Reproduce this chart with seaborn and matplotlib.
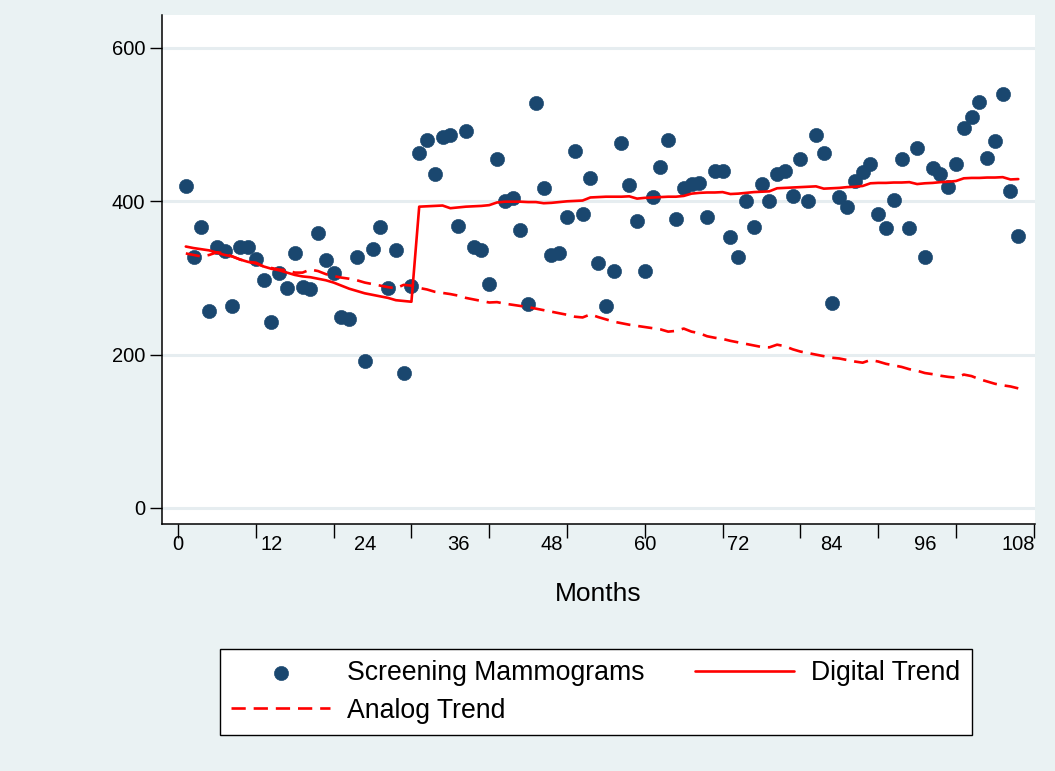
import numpy as np
import pandas as pd
import matplotlib
matplotlib.use("Agg")
import matplotlib.pyplot as plt
import seaborn as sns

# Monthly screening mammogram counts with fitted digital / analog trends
months = list(range(1, 109))

screening = [
    420, 327, 366, 257, 340, 335, 264, 340, 340, 325, 298, 243,
    306, 287, 332, 288, 285, 359, 324, 306, 249, 247, 327, 192,
    338, 366, 287, 337, 176, 289, 463, 480, 435, 484, 487, 368,
    492, 341, 337, 292, 455, 400, 404, 363, 266, 528, 417, 330,
    333, 380, 466, 384, 430, 319, 264, 309, 476, 421, 374, 309,
    406, 445, 480, 377, 418, 422, 424, 379, 440, 440, 354, 327,
    400, 367, 422, 400, 435, 440, 407, 455, 400, 487, 463, 267,
    406, 392, 427, 438, 449, 383, 365, 402, 455, 365, 470, 328,
    443, 435, 419, 449, 495, 510, 530, 457, 479, 540, 414, 355,
]

digital_trend = [
    341, 339, 337.5, 336, 333, 330, 328, 324, 321, 319, 315, 312,
    310, 307, 304, 302, 301, 299, 297, 294, 290, 286, 283, 280,
    278, 276, 274, 271, 270, 269, 393, 393.5, 394, 394.5, 391, 392,
    393, 393.5, 394, 395, 398.5, 399.5, 399.5, 399.5, 399, 399, 397.5, 398,
    399, 400, 400.5, 401, 405, 405.5, 406, 406, 406, 406.5, 403.5, 404.5,
    405, 405.5, 406, 406, 407, 410, 411, 411.5, 411.5, 412, 409.5, 410,
    411, 412, 412.5, 413, 417, 417.5, 418, 418.5, 419, 419.5, 416.5, 417,
    417.5, 418.5, 419, 420, 423.5, 424, 424, 424.5, 424.5, 425, 422.5, 423.5,
    424, 425, 425.5, 426.5, 430, 430.5, 430.5, 431, 431, 431.5, 428.5, 429,
]

analog_trend = [
    332, 330, 328, 330, 333.5, 332, 328, 324, 321, 320, 315, 313,
    311, 310, 307, 307, 311, 309, 305, 302.5, 300.5, 299, 297, 294,
    292, 290, 288, 286.5, 291, 290, 287, 285, 282, 280.5, 279, 277,
    274, 272, 270, 268, 268.5, 266.5, 265, 263.5, 262, 260, 258, 256,
    254, 252, 249.5, 248.5, 252.5, 249, 246, 243, 241, 239, 237.5, 236,
    234.5, 233, 230, 231, 234, 230, 228, 224, 222, 220.5, 218, 216,
    214, 212, 210, 209.5, 213, 211, 207, 204, 202, 200, 198, 196,
    195, 193, 191, 189.5, 193, 191, 188, 186, 184, 181, 179, 176,
    174.5, 172.5, 171, 170, 174, 172, 168, 165, 162, 160, 158.5, 156,
]

x_tick_marks = list(range(0, 111, 10))
x_label_values = list(range(0, 109, 12))
y_label_values = [0, 200, 400, 600]

df = pd.DataFrame({
    "month": months,
    "screening": screening,
    "digital": digital_trend,
    "analog": analog_trend,
})

NAVY = "#1A476F"
RED = "#FF0000"
BG = "#EAF2F3"
GRID = "#E6EDF0"

sns.set_style("white")
plt.rcParams["font.family"] = ["Liberation Sans", "DejaVu Sans"]
plt.rcParams["text.color"] = "black"
plt.rcParams["axes.labelcolor"] = "black"
plt.rcParams["xtick.color"] = "black"
plt.rcParams["ytick.color"] = "black"

W, H = 1055, 771
fig = plt.figure(figsize=(W / 100, H / 100), dpi=100, facecolor=BG)
ax = fig.add_axes([162 / W, 1 - 524 / H, (1035 - 162) / W, (524 - 15) / H])
ax.set_facecolor("white")

sns.scatterplot(data=df, x="month", y="screening", ax=ax, s=105,
                color=NAVY, edgecolor=NAVY, linewidth=0.4, zorder=3,
                label="Screening Mammograms")
sns.lineplot(data=df, x="month", y="digital", ax=ax, color=RED,
             linewidth=1.9, zorder=4, label="Digital Trend")
sns.lineplot(data=df, x="month", y="analog", ax=ax, color=RED,
             linewidth=1.9, linestyle=(0, (5.4, 3.0)), zorder=4,
             label="Analog Trend")

ax.set_xlim(-2.06, 110.15)
ax.set_ylim(-20.9, 643)

# x: tick marks every 10 months, labels every 12 months
ax.xaxis.remove_overlapping_locs = False
ax.set_xticks(x_tick_marks)
ax.set_xticklabels([])
ax.set_xticks(x_label_values, minor=True)
ax.set_xticklabels([str(v) for v in x_label_values], minor=True)
ax.tick_params(axis="x", which="major", length=10, width=1.0,
               direction="out", color="black", bottom=True)
ax.tick_params(axis="x", which="minor", length=0, pad=8, labelsize=14.5,
               bottom=True, labelcolor="black")

ax.set_yticks(y_label_values)
ax.set_yticklabels([str(v) for v in y_label_values])
ax.tick_params(axis="y", which="major", length=9, width=1.0, pad=3,
               direction="out", color="black", labelsize=14.5, left=True,
               labelcolor="black")

ax.yaxis.grid(True, color=GRID, linewidth=2.2)
ax.xaxis.grid(False)
ax.set_axisbelow(True)

for side in ("top", "right"):
    ax.spines[side].set_visible(False)
for side in ("left", "bottom"):
    ax.spines[side].set_color("black")
    ax.spines[side].set_linewidth(1.1)

ax.set_xlabel("Months", fontsize=19, labelpad=20, color="black")
ax.set_ylabel("")

handles, labels = ax.get_legend_handles_labels()
ax.get_legend().remove()
order = [labels.index(n) for n in
         ("Screening Mammograms", "Analog Trend", "Digital Trend")]
leg = fig.legend([handles[i] for i in order], [labels[i] for i in order],
                 ncol=2, loc="lower left",
                 bbox_to_anchor=(220 / W, 1 - 735 / H),
                 frameon=True, fancybox=False, framealpha=1.0, fontsize=19.2,
                 handlelength=3.7, handletextpad=0.65, columnspacing=1.9,
                 borderpad=0.42, labelspacing=0.44, scatterpoints=1,
                 borderaxespad=0)
for txt in leg.get_texts():
    txt.set_color("black")
leg.get_frame().set_edgecolor("black")
leg.get_frame().set_linewidth(1.0)
leg.get_frame().set_facecolor("white")

fig.savefig("out.png", dpi=100, facecolor=BG)
